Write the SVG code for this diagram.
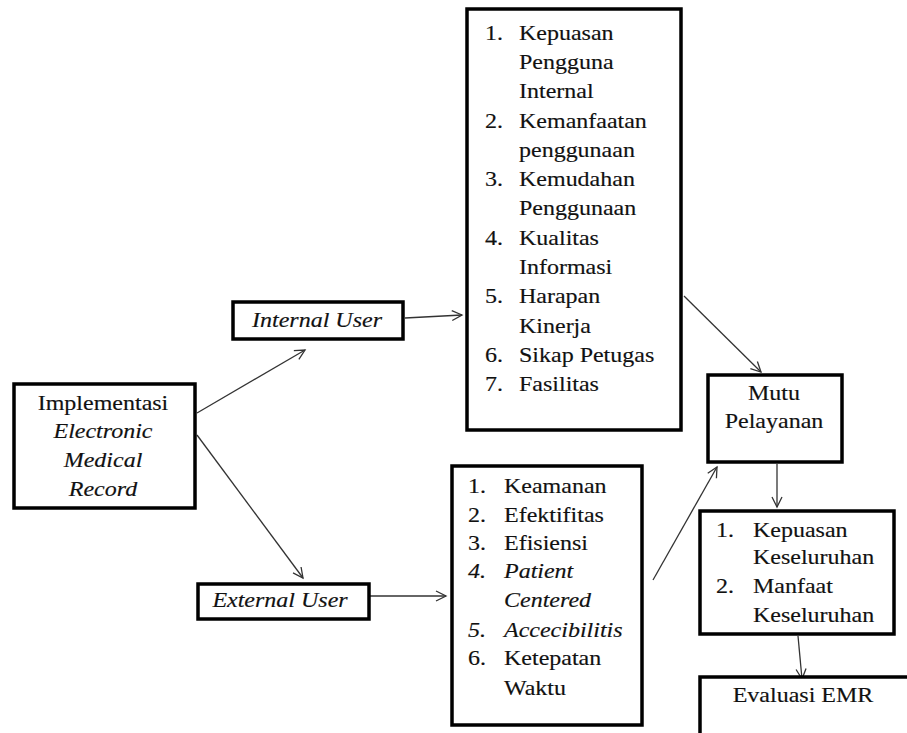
<svg xmlns="http://www.w3.org/2000/svg" width="907" height="733" viewBox="0 0 907 733">
<defs>
<style>
.box{fill:#fff;stroke:#000;stroke-width:3.5}
.t{font-family:"Liberation Serif","Times New Roman",serif;font-size:20px;fill:#111;stroke:#111;stroke-width:0.15}
.i{font-style:italic}
.m{text-anchor:middle}
.c{stroke:#333;stroke-width:1.3;fill:none;marker-end:url(#ah)}
</style>
<marker id="ah" markerUnits="userSpaceOnUse" markerWidth="14" markerHeight="14" refX="11" refY="6" orient="auto" viewBox="0 0 14 12">
<path d="M1,1 L11,6 L1,11" fill="none" stroke="#333" stroke-width="1.3"/>
</marker>
</defs>
<rect width="907" height="733" fill="#fff"/>
<g id="connectors">
<line class="c" x1="197" y1="413" x2="305" y2="350"/>
<line class="c" x1="197" y1="435" x2="303" y2="578"/>
<line class="c" x1="405" y1="318" x2="462" y2="315"/>
<line class="c" x1="360" y1="596" x2="446" y2="596"/>
<line class="c" x1="684" y1="296" x2="761" y2="372"/>
<line class="c" x1="653" y1="580" x2="717" y2="467"/>
<line class="c" x1="777" y1="464" x2="777" y2="507"/>
<line class="c" x1="798" y1="636" x2="802" y2="679"/>
</g>
<g id="implementasi">
<rect class="box" x="14" y="384" width="181" height="124"/>
<text class="t m" transform="matrix(1.2 0 0 1 103 410)">Implementasi</text>
<text class="t m i" transform="matrix(1.2 0 0 1 103 438)">Electronic</text>
<text class="t m i" transform="matrix(1.2 0 0 1 103 467)">Medical</text>
<text class="t m i" transform="matrix(1.2 0 0 1 103 496)">Record</text>
</g>
<g id="internal-user">
<rect class="box" x="233" y="302" width="170" height="37"/>
<text class="t m i" transform="matrix(1.2 0 0 1 317 327)">Internal  User</text>
</g>
<g id="external-user">
<rect class="box" x="198" y="584" width="171" height="35"/>
<text class="t m i" transform="matrix(1.2 0 0 1 280 607)">External  User</text>
</g>
<g id="internal-list">
<rect class="box" x="467" y="9" width="214" height="421"/>
<text class="t" transform="matrix(1.2 0 0 1 485 40)">1.</text>
<text class="t" transform="matrix(1.2 0 0 1 519 40)">Kepuasan</text>
<text class="t" transform="matrix(1.2 0 0 1 519 69)">Pengguna</text>
<text class="t" transform="matrix(1.2 0 0 1 519 98)">Internal</text>
<text class="t" transform="matrix(1.2 0 0 1 485 128)">2.</text>
<text class="t" transform="matrix(1.2 0 0 1 519 128)">Kemanfaatan</text>
<text class="t" transform="matrix(1.2 0 0 1 519 157)">penggunaan</text>
<text class="t" transform="matrix(1.2 0 0 1 485 186)">3.</text>
<text class="t" transform="matrix(1.2 0 0 1 519 186)">Kemudahan</text>
<text class="t" transform="matrix(1.2 0 0 1 519 215)">Penggunaan</text>
<text class="t" transform="matrix(1.2 0 0 1 485 245)">4.</text>
<text class="t" transform="matrix(1.2 0 0 1 519 245)">Kualitas</text>
<text class="t" transform="matrix(1.2 0 0 1 519 274)">Informasi</text>
<text class="t" transform="matrix(1.2 0 0 1 485 303)">5.</text>
<text class="t" transform="matrix(1.2 0 0 1 519 303)">Harapan</text>
<text class="t" transform="matrix(1.2 0 0 1 519 333)">Kinerja</text>
<text class="t" transform="matrix(1.2 0 0 1 485 362)">6.</text>
<text class="t" transform="matrix(1.2 0 0 1 519 362)">Sikap Petugas</text>
<text class="t" transform="matrix(1.2 0 0 1 485 391)">7.</text>
<text class="t" transform="matrix(1.2 0 0 1 519 391)">Fasilitas</text>
</g>
<g id="external-list">
<rect class="box" x="452" y="466" width="190" height="259"/>
<text class="t" transform="matrix(1.2 0 0 1 468 493)">1.</text>
<text class="t" transform="matrix(1.2 0 0 1 504 493)">Keamanan</text>
<text class="t" transform="matrix(1.2 0 0 1 468 522)">2.</text>
<text class="t" transform="matrix(1.2 0 0 1 504 522)">Efektifitas</text>
<text class="t" transform="matrix(1.2 0 0 1 468 550)">3.</text>
<text class="t" transform="matrix(1.2 0 0 1 504 550)">Efisiensi</text>
<text class="t i" transform="matrix(1.2 0 0 1 468 578)">4.</text>
<text class="t i" transform="matrix(1.2 0 0 1 504 578)">Patient</text>
<text class="t i" transform="matrix(1.2 0 0 1 504 607)">Centered</text>
<text class="t i" transform="matrix(1.2 0 0 1 468 637)">5.</text>
<text class="t i" transform="matrix(1.2 0 0 1 504 637)">Accecibilitis</text>
<text class="t" transform="matrix(1.2 0 0 1 468 665)">6.</text>
<text class="t" transform="matrix(1.2 0 0 1 504 665)">Ketepatan</text>
<text class="t" transform="matrix(1.2 0 0 1 504 695)">Waktu</text>
</g>
<g id="mutu-pelayanan">
<rect class="box" x="708" y="375" width="134" height="87"/>
<text class="t m" transform="matrix(1.2 0 0 1 774 400)">Mutu</text>
<text class="t m" transform="matrix(1.2 0 0 1 774 428)">Pelayanan</text>
</g>
<g id="kepuasan">
<rect class="box" x="700" y="511" width="194" height="123"/>
<text class="t" transform="matrix(1.2 0 0 1 716 537)">1.</text>
<text class="t" transform="matrix(1.2 0 0 1 753 537)">Kepuasan</text>
<text class="t" transform="matrix(1.2 0 0 1 753 564)">Keseluruhan</text>
<text class="t" transform="matrix(1.2 0 0 1 716 593)">2.</text>
<text class="t" transform="matrix(1.2 0 0 1 753 593)">Manfaat</text>
<text class="t" transform="matrix(1.2 0 0 1 753 622)">Keseluruhan</text>
</g>
<g id="evaluasi-emr">
<rect class="box" x="700" y="677" width="230" height="80"/>
<text class="t m" transform="matrix(1.2 0 0 1 803 702)">Evaluasi EMR</text>
</g>
</svg>
